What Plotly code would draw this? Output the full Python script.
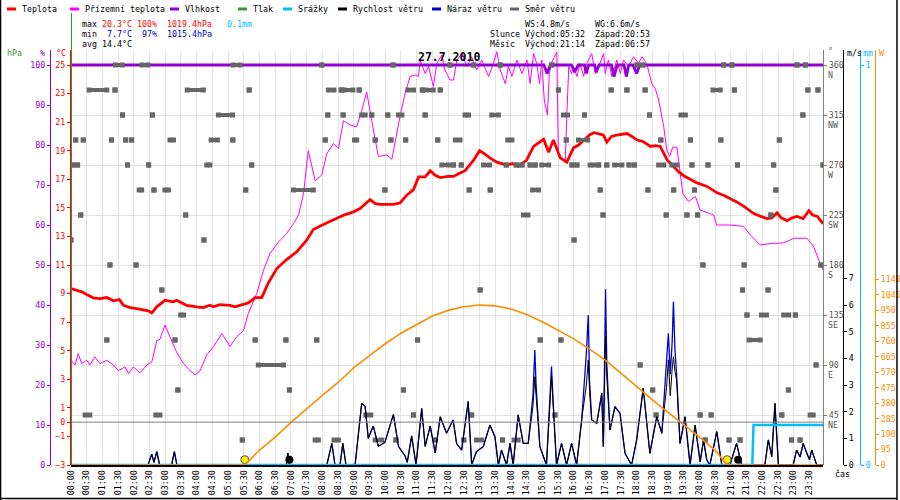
import plotly.graph_objects as go

W, H = 900, 500
MONO = "DejaVu Sans Mono"

# ---- data (hours of the day, 0 = 00:00) ----
temp_t = [0.0, 0.18, 0.34, 0.5, 0.71, 0.92, 1.14, 1.35, 1.54, 1.67, 1.88, 2.09, 2.3, 2.46, 2.57,
          2.73, 2.99, 3.26, 3.36, 3.68, 4.0, 4.21, 4.42, 4.53, 4.74, 5.06, 5.22, 5.43, 5.64, 5.86,
          6.07, 6.28, 6.55, 6.86, 7.18, 7.5, 7.71, 8.03, 8.35, 8.67, 8.99, 9.2, 9.52, 9.68, 9.84,
          10.26, 10.47, 10.68, 10.9, 11.06, 11.27, 11.43, 11.59, 11.75, 12.0, 12.17, 12.35, 12.54,
          12.8, 13.0, 13.15, 13.33, 13.55, 13.86, 14.05, 14.24, 14.5, 14.72, 15.04, 15.2, 15.35,
          15.57, 15.78, 15.99, 16.15, 16.31, 16.5, 16.63, 16.8, 16.94, 17.05, 17.2, 17.37, 17.5,
          17.69, 17.85, 18.01, 18.2, 18.44, 18.6, 18.75, 18.97, 19.18, 19.35, 19.5, 19.7, 19.92,
          20.24, 20.56, 20.8, 20.99, 21.2, 21.41, 21.73, 21.95, 22.15, 22.3, 22.47, 22.6, 22.79,
          22.95, 23.1, 23.3, 23.48, 23.6, 23.75, 23.93]
temp_c = [9.35, 9.23, 9.12, 8.93, 8.7, 8.65, 8.72, 8.49, 8.58, 8.18, 8.02, 7.95, 7.83, 7.79, 7.65,
          8.07, 8.53, 8.42, 8.53, 8.18, 8.07, 8.02, 8.18, 8.07, 8.23, 8.18, 8.07, 8.23, 8.35, 8.72,
          8.72, 9.75, 10.75, 11.38, 11.92, 12.73, 13.48, 13.83, 14.18, 14.48, 14.72, 14.95, 15.58,
          15.3, 15.25, 15.25, 15.35, 15.88, 16.28, 17.17, 17.17, 17.59, 17.28, 17.12, 17.2, 17.2,
          17.4, 17.6, 18.3, 19.0, 18.8, 18.5, 18.2, 18.0, 18.1, 17.9, 18.35, 19.3, 19.8, 18.9, 19.75,
          18.5, 18.2, 19.2, 19.4, 19.75, 20.1, 20.26, 20.15, 20.1, 19.6, 20.0, 20.1, 20.15, 20.2,
          20.0, 19.75, 19.65, 19.3, 19.35, 19.3, 18.35, 17.85, 17.5, 17.25, 17.0, 16.75, 16.5,
          16.05, 15.85, 15.65, 15.4, 15.1, 14.6, 14.4, 14.25, 14.3, 14.65, 14.3, 14.1, 14.3, 14.4,
          14.25, 14.8, 14.5, 14.4, 13.9]

ground_t = [0.0, 0.13, 0.23, 0.34, 0.5, 0.6, 0.76, 0.92, 1.14, 1.35, 1.51, 1.72, 1.83, 1.98, 2.2,
            2.41, 2.57, 2.73, 2.83, 2.99, 3.15, 3.36, 3.58, 3.79, 3.95, 4.11, 4.32, 4.53, 4.8,
            5.06, 5.27, 5.49, 5.64, 5.91, 6.12, 6.33, 6.6, 6.86, 7.08, 7.24, 7.4, 7.55, 7.77, 7.98,
            8.14, 8.35, 8.51, 8.67, 8.88, 9.09, 9.25, 9.41, 9.57, 9.78, 10.05, 10.21, 10.47, 10.63,
            10.79, 10.95, 11.06, 11.11, 11.27, 11.38, 11.53, 11.64, 11.8, 11.9, 12.06, 12.17, 12.28,
            12.44, 12.6, 12.75, 12.91, 13.07, 13.29, 13.44, 13.55, 13.66, 13.82, 13.92, 14.03,
            14.19, 14.35, 14.51, 14.61, 14.72, 14.82, 14.91, 14.98, 15.06, 15.16, 15.22, 15.3,
            15.38, 15.46, 15.51, 15.62, 15.73, 15.78, 15.84, 15.93, 15.99, 16.1, 16.2, 16.31,
            16.41, 16.57, 16.68, 16.79, 16.95, 17.0, 17.1, 17.21, 17.37, 17.48, 17.58, 17.74, 17.9,
            18.06, 18.17, 18.32, 18.48, 18.6, 18.7, 18.86, 18.96, 19.05, 19.15, 19.28, 19.37,
            19.47, 19.65, 19.87, 20.02, 20.45, 20.55, 20.98, 21.4, 21.62, 21.93, 22.25, 22.68,
            23.0, 23.42, 23.63, 23.84, 23.93]
ground_c = [4.33, 4.0, 4.8, 4.1, 4.33, 4.0, 4.57, 4.1, 4.33, 4.0, 3.6, 3.87, 3.4, 3.87, 3.45,
            4.0, 4.2, 5.7, 5.8, 6.8, 5.97, 4.9, 4.1, 3.6, 3.3, 3.6, 4.7, 5.27, 6.2,
            5.3, 5.97, 6.4, 7.6, 9.0, 10.6, 11.8, 12.6, 13.2, 13.9, 14.5, 16.0, 19.0, 16.9, 17.3,
            18.8, 19.5, 19.15, 21.1, 20.8, 20.67, 21.8, 23.1, 21.1, 18.6, 18.7, 18.4, 21.4, 23.0,
            24.2, 24.3, 24.2, 25.35, 24.4, 24.9, 23.5, 25.1, 25.7, 24.65, 23.95, 23.95, 25.35,
            25.8, 24.9, 25.58, 24.65, 25.35, 24.2, 25.1, 25.93, 24.65, 23.7, 24.9, 24.2,
            25.35, 24.4, 25.35, 23.7, 25.8, 25.1, 23.7, 25.35, 22.55, 21.5, 24.4, 25.2,
            25.58, 25.9, 18.6, 18.5, 18.35, 21.6, 24.9, 24.4, 24.9, 24.2, 25.1, 24.2,
            25.1, 25.8, 24.4, 24.9, 25.8, 24.4, 25.35, 24.2, 25.35, 24.4, 25.35, 24.9, 25.58,
            25.1, 25.58, 25.1, 23.7, 23.3, 22.55, 20.7, 19.05, 18.6, 19.25, 19.25, 17.65,
            16.0, 15.45, 15.8, 14.85, 14.5, 13.8, 13.8, 13.7, 13.1, 12.4, 12.5, 12.55,
            12.87, 12.87, 12.3, 11.1, 10.65]

hum_t = [0, 15.05, 15.15, 15.25, 15.93, 16.03, 16.14, 16.34, 16.4, 16.47, 16.66, 16.72, 16.8,
         17.2, 17.28, 17.38, 17.6, 17.67, 17.75, 17.88, 18.0, 18.1, 23.93]
hum_pct = [100, 100, 97.9, 100, 100, 98.2, 100, 100, 97.9, 100, 100, 98.2, 100,
           100, 97.1, 100, 100, 97.1, 100, 100, 97.9, 100, 100]

wind_t = [0, 2.45, 2.57, 2.64, 2.73, 2.82, 3.2, 3.29, 3.37, 6.85, 6.9, 6.95, 8.14, 8.3, 8.4,
          8.56, 8.65, 8.75, 9.04, 9.25, 9.36, 9.46, 9.62, 9.78, 9.99, 10.26, 10.42, 10.63, 10.7,
          10.84, 10.98, 11.16, 11.27, 11.43, 11.59, 11.75, 11.95, 12.16, 12.27, 12.43, 12.64,
          12.75, 12.9, 13.12, 13.33, 13.49, 13.6, 13.7, 13.86, 13.97, 14.07, 14.23, 14.39, 14.55,
          14.7, 14.76, 14.8, 14.92, 15.13, 15.25, 15.29, 15.33, 15.45, 15.61, 15.77, 15.93, 16.09,
          16.25, 16.4, 16.46, 16.5, 16.57, 16.73, 16.89, 16.94, 16.98, 17.01, 17.05, 17.15, 17.31,
          17.47, 17.63, 17.84, 18.0, 18.21, 18.42, 18.64, 18.8, 18.95, 19.01, 19.07, 19.13, 19.17,
          19.22, 19.27, 19.38, 19.54, 19.7, 19.86, 20.02, 20.13, 20.23, 20.33, 20.55, 20.71,
          20.97, 21.18, 21.34, 22.08, 22.19, 22.3, 22.4, 22.51, 22.98, 23.09, 23.2, 23.3, 23.41,
          23.5, 23.57, 23.73, 23.93]
wind_ms = [0, 0, 0.41, 0.1, 0.5, 0, 0, 0.5, 0, 0, 0.45, 0, 0, 0.81, 0,
           0, 0.81, 0, 0, 2.31, 2.2, 1.0, 1.46, 0.7, 0.85, 1.9, 0.7, 0.34, 0.1,
           1.09, 0, 2.12, 0.7, 1.46, 0.45, 1.81, 1.19, 1.69, 0.81, 0.56, 2.38,
           0, 0.5, 0.69, 1.5, 1.06, 0, 0.56, 0, 0.81, 0, 1.88, 0.81, 0.81,
           2.2, 3.31, 2.6, 0.69, 0, 2.4, 3.31, 2.5, 0, 0.81, 0, 0.81, 0,
           1.69, 3.0, 3.94, 2.8, 1.69, 1.56, 2.69, 0.69, 3.2, 4.81, 3.3, 1.31, 2.19,
           1.94, 0.44, 0, 0.94, 2.88, 0.44, 1.81, 1.19, 2.9, 3.94, 2.6, 3.6, 4.06,
           3.5, 3.19, 0.81, 1.81, 0, 1.5, 0.12, 0.94, 0.19, 0, 1.25, 0,
           0, 0.81, 0, 0, 0.94, 0.31, 2.31, 0, 0, 0.56, 0.3, 0.81, 0.44,
           0.2, 0.56, 0, 0]
gust_ms = [0, 0, 0.41, 0.1, 0.5, 0, 0, 0.5, 0, 0, 0.45, 0, 0, 0.81, 0,
           0, 0.81, 0, 0, 2.31, 2.2, 1.0, 1.46, 0.7, 0.85, 1.9, 0.7, 0.34, 0.1,
           1.09, 0, 2.12, 0.7, 1.46, 0.45, 1.81, 1.19, 1.69, 0.81, 0.56, 2.38,
           0, 0.5, 0.69, 1.5, 1.06, 0, 0.56, 0, 0.81, 0, 1.88, 0.81, 0.81,
           2.6, 4.31, 3.0, 0.69, 0, 2.6, 3.69, 2.7, 0, 0.81, 0, 0.81, 0,
           1.69, 4.2, 5.62, 3.2, 1.69, 1.56, 2.69, 0.69, 4.0, 6.59, 3.8, 1.31, 2.19,
           1.94, 0.44, 0, 0.94, 2.88, 0.44, 1.81, 1.19, 3.9, 4.94, 3.4, 4.6, 6.12,
           4.3, 3.44, 0.81, 1.81, 0, 1.5, 0.12, 0.94, 0.19, 0, 1.25, 0,
           0, 0.81, 0, 0, 0.94, 0.31, 2.31, 0, 0, 0.56, 0.3, 0.81, 0.44,
           0.2, 0.56, 0, 0]

sun_t = [0, 5.53, 6.0, 6.5, 7.0, 7.5, 8.0, 8.5, 9.0, 9.5, 10.0, 10.5, 11.0, 11.5, 12.0, 12.5,
         13.0, 13.5, 14.0, 14.5, 15.0, 15.5, 16.0, 16.5, 17.0, 17.5, 18.0, 18.5, 19.0, 19.5,
         20.0, 20.5, 20.88, 23.93]
sun_w = [0, 0, 92, 171, 262, 348, 428, 507, 598, 672, 745, 810, 865, 915, 950, 972,
         983, 978, 958, 925, 880, 830, 775, 712, 645, 565, 480, 400, 324, 250,
         171, 90, 0, 0]

rain_t = [0, 21.68, 21.72, 23.93]
rain_mm = [0, 0, 0.1, 0.1]

# wind direction samples per compass point: single time or (from, to) run
dir_N = [(1.41, 1.63), (2.26, 2.45), (5.16, 5.38), 7.98, 10.25, 12.06, 12.81, 13.66, 15.3,
         18.01, 18.2, 20.77, 21.03, 23.1, 23.37]
dir_NNW = [(0.58, 1.14), 1.4, (3.7, 4.21), 5.67, (8.19, 8.37), 8.6, (8.7, 8.97), 9.17,
           (10.72, 10.9), 11.18, (11.3, 11.53), 11.75, 15.51, 17.19, 17.69, 18.27,
           (20.43, 20.66), 21.11, 23.45, 23.77]
dir_NW = [1.64, 2.59, (4.69, 5.14), 8.17, 8.66, (9.25, 9.36), 9.57, 10.08, (10.42, 10.53),
          11.27, (12.54, 12.65), (13.39, 13.6), (15.67, 15.8), 16.34, 18.41, (19.41, 19.55), 23.29]
dir_WNW = [0.15, 0.39, 1.29, 1.74, 1.93, (3.15, 3.26), (4.46, 4.66), 5.15, 8.09, (9.02, 9.09),
           9.68, 10.18, 10.65, 11.67, (12.23, 12.38), (13.9, 14.03), 15.76, (16.15, 16.44),
           18.77, 19.71, 20.68, 22.54]
dir_W = [0.05, 0.21, 1.8, 2.47, (4.32, 4.42), 5.75, (11.8, 12.01), 12.17, 12.42, (13.13, 13.32),
         13.85, 14.17, 14.35, 14.61, 14.77, (14.98, 15.2), 15.94, 16.1, (16.52, 16.63), 16.79,
         17.05, (17.3, 17.53), 17.76, 17.93, (18.7, 18.86), (19.12, 19.28), 19.76, 20.27,
         21.21, 22.36, 23.93]
dir_WSW = [(2.17, 2.25), 2.64, (2.99, 3.1), 5.56, (7.08, 7.71), 9.99, 12.67, 13.34,
           (14.69, 14.88), 16.84, 18.36, 19.18, 19.84, 22.43]
dir_SW = [0.31, 3.65, (14.4, 14.54), 16.93, 18.94, 19.6, 19.94, 22.27]
dir_SSW = [0.0, 4.23, 16.01]
dir_S = [1.24, 2.07, 20.11, 21.42, 23.86]
dir_SSE = [2.89, 13.02, 21.37, 22.18]
dir_SE = [(3.49, 3.58), 21.51, (21.97, 22.13), (22.68, 22.84), 23.05]
dir_ESE = [1.14, 3.31, 5.86, 6.84, 7.82, 11.03, 14.93, 15.59, (21.58, 21.93)]
dir_E = [(5.96, 6.76), 18.11, 23.71]
dir_ENE = [3.4, 6.95, 10.58, 18.51, 22.83]
dir_NE = [(0.45, 0.6), (2.7, 2.83), (9.38, 9.54), 10.9, 12.75, 15.4, 18.62, 20.02, 20.37,
          22.62, (23.52, 23.62)]
dir_NNE = [5.45, (7.77, 7.87), (8.37, 8.51), (9.68, 9.89), 10.34, 11.59, 12.5, (12.9, 13.07),
           13.73, (14.1, 14.23), 20.18, 20.94, 21.29, 22.93, 23.2]

# sunrise/sunset, moonset/moonrise
sun_events = [5.53, 20.88]
moon_events = [6.95, 21.23]

x_ticks = [h / 2 for h in range(48)]
x_labels = ["%02d:%02d" % (h // 2, 30 * (h % 2)) for h in range(48)]

compass = [(45, "NE"), (90, "E"), (135, "SE"), (180, "S"), (225, "SW"), (270, "W"),
           (315, "NW"), (360, "N")]


def px(x):
    return x / W


def py(y):
    return 1 - y / H


RED = "#ff0000"
MAG = "#ff00ff"
PUR = "#9400d3"
GRN = "#339933"
CYAN = "#00bfff"
BLUE = "#0000cc"
ORG = "#ff8c00"
GREY = "#666666"

fig = go.Figure()

fig.add_trace(go.Scatter(x=sun_t, y=sun_w, yaxis="y7", mode="lines",
                         line=dict(color=ORG, width=1.6)))
fig.add_trace(go.Scatter(x=rain_t, y=rain_mm, yaxis="y6", mode="lines",
                         line=dict(color=CYAN, width=2.5)))
fig.add_trace(go.Scatter(x=ground_t, y=ground_c, mode="lines",
                         line=dict(color=MAG, width=1)))
fig.add_trace(go.Scatter(x=temp_t, y=temp_c, mode="lines",
                         line=dict(color=RED, width=2.8)))
fig.add_trace(go.Scatter(x=hum_t, y=hum_pct, yaxis="y2", mode="lines",
                         line=dict(color=PUR, width=2.8)))
fig.add_trace(go.Scatter(x=wind_t, y=gust_ms, yaxis="y5", mode="lines",
                         line=dict(color=BLUE, width=1.3)))
fig.add_trace(go.Scatter(x=wind_t, y=wind_ms, yaxis="y5", mode="lines",
                         line=dict(color="black", width=1)))

# wind direction marks
dir_rows = [(360, dir_N), (337.5, dir_NNW), (315, dir_NW), (292.5, dir_WNW), (270, dir_W),
            (247.5, dir_WSW), (225, dir_SW), (202.5, dir_SSW), (180, dir_S), (157.5, dir_SSE),
            (135, dir_SE), (112.5, dir_ESE), (90, dir_E), (67.5, dir_ENE), (45, dir_NE),
            (22.5, dir_NNE)]
dx, dy = [], []
for deg, samples in dir_rows:
    for s in samples:
        t0, t1 = s if isinstance(s, tuple) else (s, s)
        dx += [t0, t1, None]
        dy += [deg, deg, None]
fig.add_trace(go.Scatter(x=dx, y=dy, yaxis="y4", mode="lines+markers",
                         line=dict(color=GREY, width=4),
                         marker=dict(symbol="square", size=5, color=GREY)))

# sun / moon events near the baseline
fig.add_trace(go.Scatter(x=sun_events, y=[0.2, 0.2], yaxis="y5", mode="markers",
                         marker=dict(size=8, color="#ffee00", line=dict(color="#555555", width=1))))
fig.add_trace(go.Scatter(x=moon_events, y=[0.2, 0.2], yaxis="y5", mode="markers",
                         marker=dict(size=8, color="black")))

tf = lambda c: dict(family=MONO, size=8.3, color=c)
ydom = [py(465), py(50)]


def yax(color, rng, vals, pos, side, text=None, **kw):
    d = dict(range=rng, tickvals=vals, anchor="free", position=pos, side=side,
             domain=ydom, showline=True, linecolor=color, linewidth=1, ticks="outside",
             ticklen=3, tickcolor=color, tickfont=tf(color), showgrid=False, zeroline=False,
             automargin=False, fixedrange=True)
    if text is not None:
        d["ticktext"] = text
    d.update(kw)
    return d


t_vals = [-3, -1, 0, 1, 3, 5, 7, 9, 11, 13, 15, 17, 19, 21, 23, 25]
fig.update_layout(
    width=W, height=H, margin=dict(l=0, r=0, t=0, b=0),
    paper_bgcolor="white", plot_bgcolor="white", showlegend=False,
    xaxis=dict(domain=[px(71), px(823)], range=[0, 23.93], tickvals=x_ticks, ticktext=x_labels,
               tickangle=-90, tickfont=dict(family=MONO, size=8.3, color="black"),
               showgrid=True, gridcolor="#e3e3e3", gridwidth=1, showline=True,
               linecolor="black", linewidth=2, ticks="", zeroline=False, automargin=False),
    yaxis=yax(RED, [-3, 26.05], t_vals, px(70), "left"),
    yaxis2=yax(PUR, [0, 103.75], list(range(0, 101, 10)), px(50), "left", overlaying="y"),
    yaxis3=yax(GRN, [1008, 1026.675], list(range(1008, 1027)), px(28), "left", overlaying="y"),
    yaxis4=yax("#808080", [0, 373.5], [c[0] for c in compass], px(823), "right",
               text=[str(c[0]) for c in compass], overlaying="y", showgrid=True,
               gridcolor="#e3e3e3"),
    yaxis5=yax("black", [0, 15.5625], list(range(8)), px(843), "right", overlaying="y"),
    yaxis6=yax(CYAN, [0, 1.0375], [0, 1], px(860), "right", overlaying="y"),
    yaxis7=yax(ORG, [0, 2550], list(range(0, 1141, 95)), px(875), "right", overlaying="y"),
)
fig.update_layout(yaxis4=dict(tickfont=tf("#555555")))

shapes = [
    # 0 degC line
    dict(type="line", xref="x", yref="y", x0=0, x1=23.93, y0=0, y1=0,
         line=dict(color="#808080", width=1)),
    dict(type="line", xref="paper", yref="paper", x0=px(71.5), x1=px(71.5), y0=py(13), y1=py(465),
         line=dict(color=GRN, width=1)),
    # frame
    dict(type="line", xref="paper", yref="paper", x0=px(0.5), x1=px(0.5), y0=0, y1=1,
         line=dict(color="black", width=1.5)),
    dict(type="line", xref="paper", yref="paper", x0=px(897), x1=px(897), y0=0, y1=1,
         line=dict(color="black", width=1.5)),
    dict(type="line", xref="paper", yref="paper", x0=0, x1=px(897), y0=py(498.5), y1=py(498.5),
         line=dict(color="black", width=1.5)),
]

ann = []


def note(text, x, y, color="black", size=8.3, anchor="left", bold=False):
    if bold:
        text = "<b>" + text + "</b>"
    ann.append(dict(text=text, x=px(x), y=py(y), xref="paper", yref="paper", xanchor=anchor,
                    yanchor="middle", showarrow=False,
                    font=dict(family=MONO, size=size, color=color)))


# legend row
legend = [("Teplota", RED, 7), ("Přízemní teplota", MAG, 70), ("Vlhkost", PUR, 170),
          ("Tlak", GRN, 238), ("Srážky", CYAN, 283), ("Rychlost větru", "black", 338),
          ("Náraz větru", BLUE, 432), ("Směr větru", GREY, 510)]
for name, col, x0 in legend:
    shapes.append(dict(type="line", xref="paper", yref="paper", x0=px(x0), x1=px(x0 + 9),
                       y0=py(9), y1=py(9), line=dict(color=col, width=3)))
    note(name, x0 + 13, 9)

# stats block
note("max", 80, 24)
note("20.3°C", 100, 24, RED)
note("100%", 135, 24, RED)
note("1019.4hPa", 165, 24, RED)
note("0.1mm", 225, 24, CYAN)
note("min", 80, 34)
note("7.7°C", 105, 34, BLUE)
note("97%", 140, 34, BLUE)
note("1015.4hPa", 165, 34, BLUE)
note("avg 14.4°C", 80, 44)
note("WS:4.8m/s", 523, 24)
note("WG:6.6m/s", 593, 24)
note("Slunce", 488, 34)
note("Východ:05:32", 523, 34)
note("Západ:20:53", 593, 34)
note("Měsíc", 488, 44)
note("Východ:21:14", 523, 44)
note("Západ:06:57", 593, 44)

note("27.7.2010", 449, 57, size=11.5, anchor="center", bold=True)

# axis headers
note("hPa", 14, 53, GRN, anchor="center")
note("%", 42, 53, PUR, anchor="center")
note("°C", 61, 53, RED, anchor="center")
note("°", 826, 51, "#555555")
note("m/s", 845, 53, "black")
note("mm", 861, 53, CYAN)
note("W", 877, 53, ORG)
note("čas", 833, 474, "black")

for deg, name in compass:
    ann.append(dict(text=name, x=px(826), y=deg, xref="paper", yref="y4", yshift=-10,
                    xanchor="left", yanchor="middle", showarrow=False,
                    font=dict(family=MONO, size=8.3, color="#555555")))

fig.update_layout(shapes=shapes, annotations=ann)

# the page body has a default 8px margin; drop it so the figure sits at the corner
fig.write_html("out.html", config={"displayModeBar": False},
               post_script="document.body.style.margin='0px';")
